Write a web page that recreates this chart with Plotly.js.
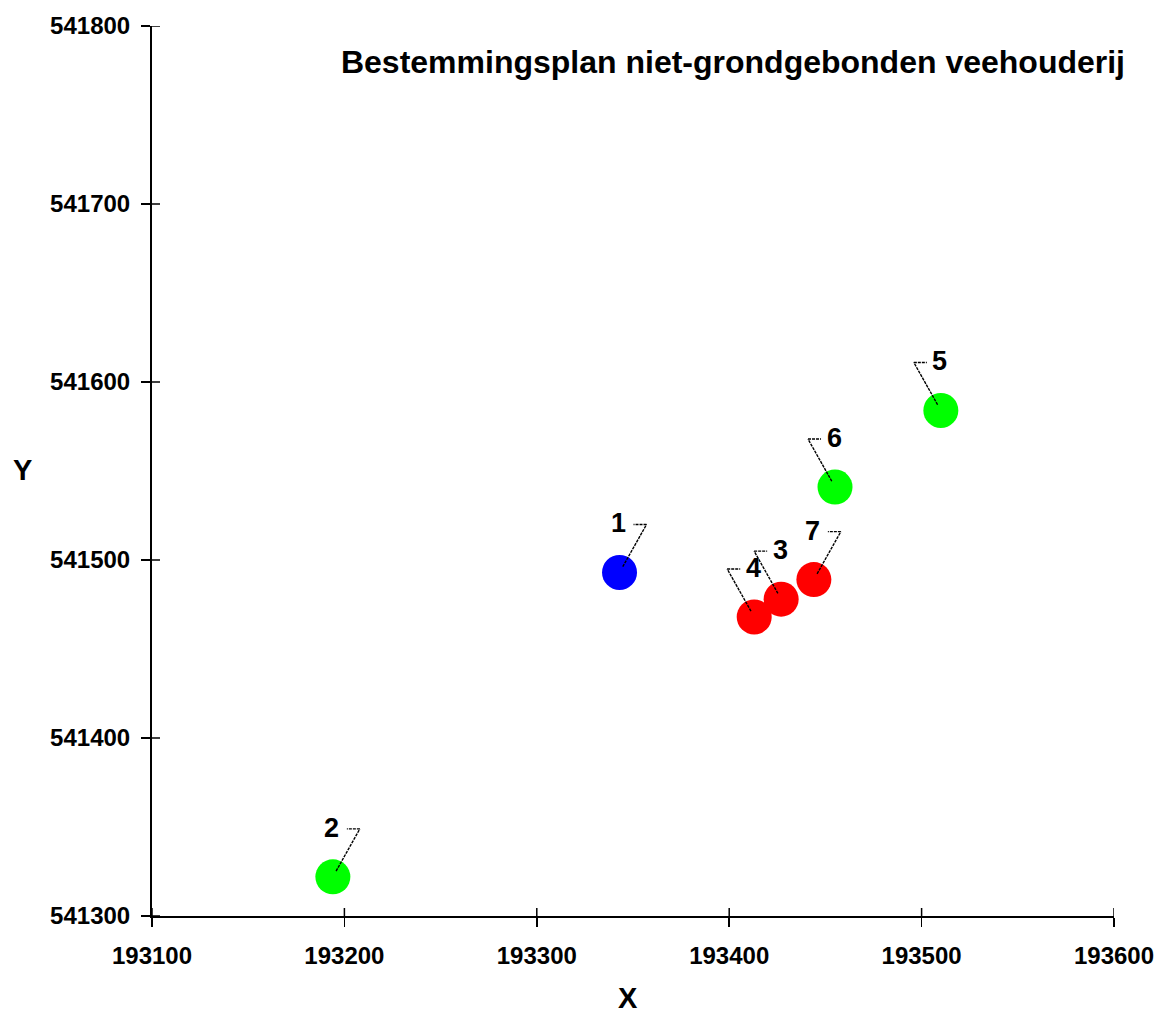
<!DOCTYPE html>
<html>
<head>
<meta charset="utf-8">
<script src="https://cdn.plot.ly/plotly-3.0.1.min.js"></script>
<style>html,body{margin:0;padding:0;background:#fff;}#chart{width:1160px;height:1014px;}</style>
</head>
<body>
<div id="chart"></div>
<script>
// ---- data ----
const pointIds = ['1', '2', '3', '4', '5', '6', '7'];
const xValues = [193343, 193194, 193427, 193413, 193510, 193455, 193444];
const yValues = [541493, 541322, 541478, 541468, 541584, 541541, 541489];
const pointGroup = ['blue', 'green', 'red', 'red', 'green', 'green', 'red'];
const xTicks = [193100, 193200, 193300, 193400, 193500, 193600];
const yTicks = [541300, 541400, 541500, 541600, 541700, 541800];
const chartTitle = 'Bestemmingsplan niet-grondgebonden veehouderij';

// ---- style / label placement ----
const groupColor = {blue: '#0000ff', red: '#ff0000', green: '#00ff00'};
const labelSide = {'1': 1, '2': 1, '3': -1, '4': -1, '5': -1, '6': -1, '7': 1};
const FONT = '"Liberation Sans", Arial, sans-serif';
const X_RANGE = [193100, 193600];
const Y_RANGE = [541300, 541800];

const trace = {
  x: xValues, y: yValues, type: 'scatter', mode: 'markers',
  marker: {size: 35, color: pointGroup.map(g => groupColor[g]), line: {width: 0}},
  hoverinfo: 'skip', showlegend: false
};

const shapes = [];
const annotations = [];
pointIds.forEach((id, i) => {
  const s = labelSide[id];
  const ex = 27 * s, ey = 48;
  const lineStyle = {color: '#000', width: 1.4, dash: '3px,1px'};
  shapes.push({type: 'line', xref: 'x', yref: 'y', xsizemode: 'pixel', ysizemode: 'pixel',
    xanchor: xValues[i], yanchor: yValues[i], x0: ex * 0.12, y0: ey * 0.12, x1: ex, y1: ey, line: lineStyle});
  shapes.push({type: 'line', xref: 'x', yref: 'y', xsizemode: 'pixel', ysizemode: 'pixel',
    xanchor: xValues[i], yanchor: yValues[i], x0: ex, y0: ey, x1: 14 * s, y1: ey, line: lineStyle});
  annotations.push({x: xValues[i], y: yValues[i], xref: 'x', yref: 'y', text: id, showarrow: false,
    xshift: -1, yshift: 49, xanchor: 'center', yanchor: 'middle',
    font: {family: FONT, size: 27, weight: 'bold', color: '#000'}});
});

// inner halves of the crossing tick marks
const tickStyle = {color: '#000', width: 1.5};
xTicks.forEach(v => shapes.push({type: 'line', xref: 'x', yref: 'paper', ysizemode: 'pixel', yanchor: 0,
  x0: v, x1: v, y0: 0, y1: 8, line: tickStyle}));
yTicks.forEach(v => shapes.push({type: 'line', xref: 'paper', yref: 'y', xsizemode: 'pixel', xanchor: 0,
  y0: v, y1: v, x0: 0, x1: 8, line: tickStyle}));

annotations.push({text: 'X', xref: 'paper', yref: 'paper', x: (628 - 152) / 962, y: -(998 - 916) / 890,
  xanchor: 'center', yanchor: 'middle', showarrow: false, font: {family: FONT, size: 29, weight: 'bold', color: '#000'}});
annotations.push({text: 'Y', xref: 'paper', yref: 'paper', x: -(152 - 22) / 962, y: (916 - 470) / 890,
  xanchor: 'center', yanchor: 'middle', showarrow: false, font: {family: FONT, size: 29, weight: 'bold', color: '#000'}});

const axisCommon = {
  showgrid: false, zeroline: false, showline: true, linecolor: '#000', linewidth: 2,
  ticks: 'outside', ticklen: 9, tickwidth: 1.5, tickcolor: '#000', tickformat: 'd',
  tickfont: {family: FONT, size: 24, weight: 'bold', color: '#000'}
};

const layout = {
  width: 1160, height: 1014,
  margin: {l: 152, r: 46, t: 26, b: 98},
  paper_bgcolor: '#fff', plot_bgcolor: '#fff',
  title: {text: chartTitle, xref: 'container', yref: 'container', x: 1125 / 1160, xanchor: 'right',
    y: 1 - 62 / 1014, yanchor: 'middle', font: {family: FONT, size: 32, weight: 'bold', color: '#000'}},
  xaxis: Object.assign({}, axisCommon, {range: X_RANGE, tickvals: xTicks, ticklabelstandoff: 8}),
  yaxis: Object.assign({}, axisCommon, {range: Y_RANGE, tickvals: yTicks, ticklabelstandoff: 6}),
  shapes: shapes,
  annotations: annotations
};

Plotly.newPlot('chart', [trace], layout, {displayModeBar: false, staticPlot: true});
</script>
</body>
</html>
